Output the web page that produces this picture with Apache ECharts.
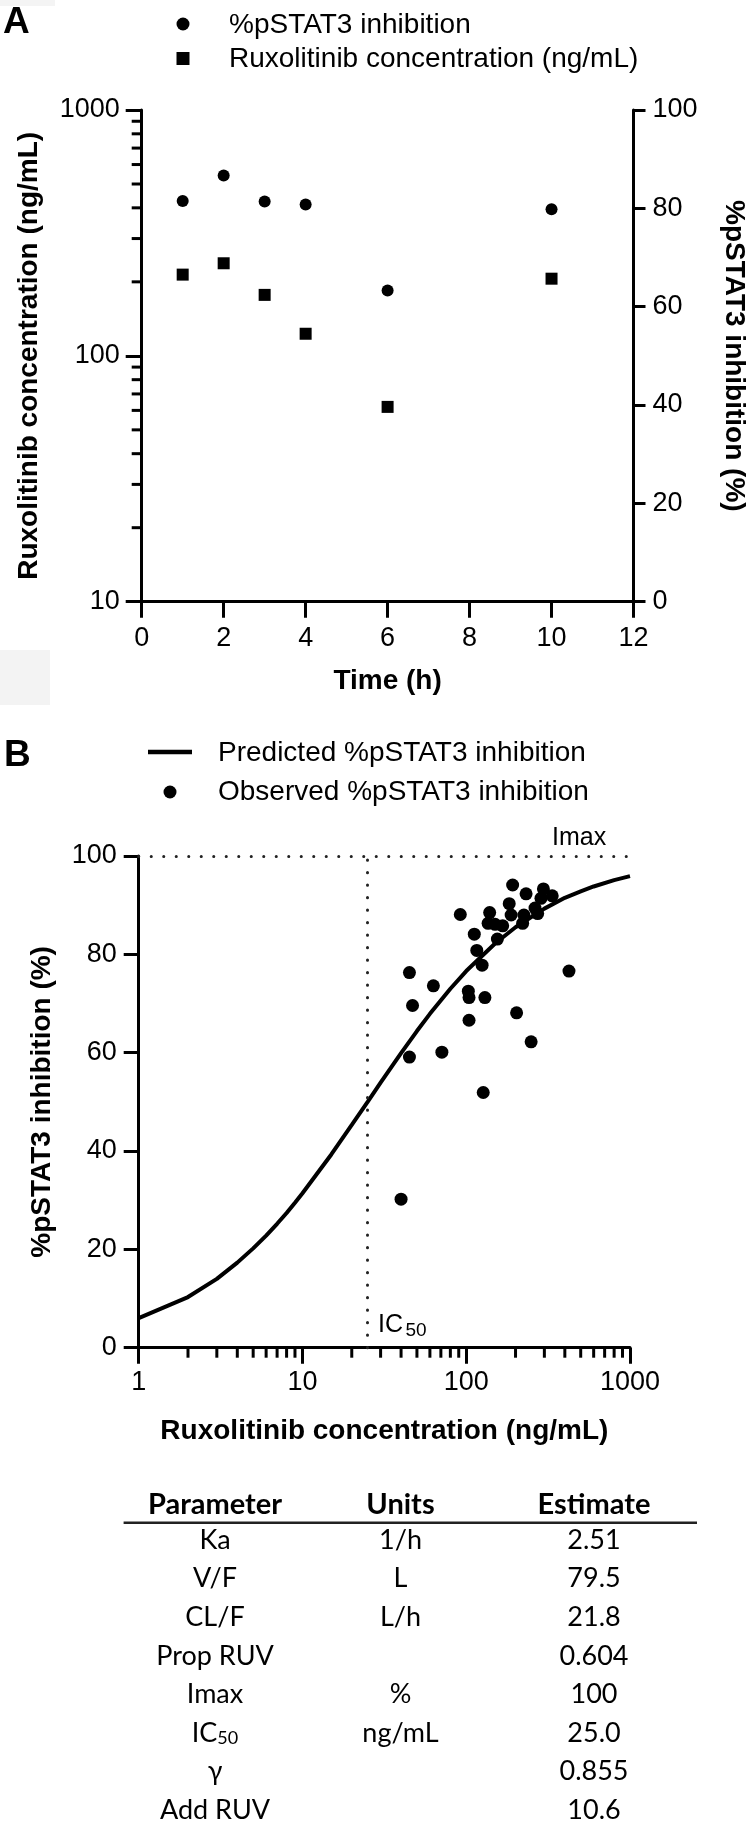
<!DOCTYPE html>
<html><head><meta charset="utf-8">
<script src="https://cdn.jsdelivr.net/npm/echarts@6/dist/echarts.min.js"></script>
<style>html,body{margin:0;padding:0;background:#fff}#c{width:750px;height:1828px}</style>
</head><body><div id="c"></div>
<script>
// ---------- Panel A data ----------
const timeH = [1, 2, 3, 4, 6, 10];
const inhibA = [81.5, 86.7, 81.4, 80.8, 63.3, 79.8];
const concA = [214, 238, 177, 123, 62, 206];
const minorA = [20, 30, 40, 50, 60, 70, 80, 90, 200, 300, 400, 500, 600, 700, 800, 900];

// ---------- Panel B data ----------
const obsConc = [192, 232, 296, 335, 183, 286, 92, 139, 188, 136, 150, 167, 225, 221, 273, 263, 112, 155, 116, 125, 424, 45, 63, 47, 103, 104, 130, 203, 104, 249, 45, 71, 127, 40];
const obsInhib = [94.1, 92.3, 93.3, 91.9, 90.3, 91.4, 88.1, 88.5, 88.0, 86.3, 86.1, 85.8, 88.0, 86.3, 88.3, 89.4, 84.1, 83.1, 80.8, 77.8, 76.6, 76.3, 73.6, 69.6, 72.5, 71.2, 71.2, 68.1, 66.6, 62.2, 59.1, 60.1, 51.9, 30.2];
const predConc = [1, 2, 3, 4, 5, 6, 7, 8, 9, 10, 15, 20, 25, 30, 40, 50, 60, 80, 100, 150, 200, 300, 400, 500, 600, 800, 1000];
const predInhib = [6.0, 10.3, 14.0, 17.3, 20.2, 22.8, 25.2, 27.4, 29.5, 31.4, 39.3, 45.3, 50.0, 53.9, 59.9, 64.4, 67.9, 73.0, 76.6, 82.2, 85.5, 89.3, 91.5, 92.8, 93.8, 95.1, 95.9];
const minorB = [2, 3, 4, 5, 6, 7, 8, 9, 20, 30, 40, 50, 60, 70, 80, 90, 200, 300, 400, 500, 600, 700, 800, 900];
const ic50 = 25;
const imax = 100;

// ---------- Table ----------
const tableHeader = ['Parameter', 'Units', 'Estimate'];
const params = ['Ka', 'V/F', 'CL/F', 'Prop RUV', 'Imax', 'IC|50', 'γ', 'Add RUV'];
const units = ['1/h', 'L', 'L/h', '', '%', 'ng/mL', '', ''];
const estimates = ['2.51', '79.5', '21.8', '0.604', '100', '25.0', '0.855', '10.6'];

const F = 'Liberation Sans, Arial, sans-serif';
const TF = 'Lato, sans-serif';
const K = '#000';
const LS = 27;

const chart = echarts.init(document.getElementById('c'), null, {renderer: 'canvas'});

function axisBase(o) {
  return Object.assign({
    axisLine: {show: true, lineStyle: {color: K, width: 3}},
    axisTick: {show: true, inside: false, length: 16, lineStyle: {color: K, width: 3}},
    axisLabel: {color: K, fontFamily: F, fontSize: LS},
    splitLine: {show: false},
    nameLocation: 'middle',
    nameTextStyle: {color: K, fontFamily: F, fontSize: 28, fontWeight: 'bold'}
  }, o);
}
const fmt = v => String(Math.round(v));

const option = {
  animation: false,
  backgroundColor: '#fff',
  grid: [
    {left: 141.7, top: 110, width: 491.8, height: 491.7, outerBoundsMode: 'none', containLabel: false},
    {left: 138.7, top: 856, width: 491.3, height: 491.7, outerBoundsMode: 'none', containLabel: false}
  ],
  xAxis: [
    axisBase({gridIndex: 0, type: 'value', min: 0, max: 12, interval: 2,
      axisLabel: {color: K, fontFamily: F, fontSize: LS, margin: 23},
      name: 'Time (h)', nameGap: 66}),
    axisBase({gridIndex: 1, type: 'log', logBase: 10, min: 1, max: 1000, splitNumber: 3,
      axisLabel: {color: K, fontFamily: F, fontSize: LS, margin: 21, formatter: fmt},
      name: 'Ruxolitinib concentration (ng/mL)', nameGap: 70})
  ],
  yAxis: [
    axisBase({gridIndex: 0, type: 'log', logBase: 10, min: 10, max: 1000, splitNumber: 2, position: 'left',
      axisLabel: {color: K, fontFamily: F, fontSize: LS, margin: 22, formatter: fmt},
      name: 'Ruxolitinib concentration (ng/mL)', nameGap: 98}),
    axisBase({gridIndex: 0, type: 'value', min: 0, max: 100, interval: 20, position: 'right',
      axisTick: {show: true, inside: false, length: 12, lineStyle: {color: K, width: 3}},
      axisLabel: {color: K, fontFamily: F, fontSize: LS, margin: 19},
      name: '%pSTAT3 inhibition (%)', nameRotate: -90, nameGap: 86}),
    axisBase({gridIndex: 1, type: 'value', min: 0, max: 100, interval: 20,
      axisTick: {show: true, inside: false, length: 15, lineStyle: {color: K, width: 3}},
      axisLabel: {color: K, fontFamily: F, fontSize: LS, margin: 22},
      name: '%pSTAT3 inhibition (%)', nameGap: 82})
  ],
  series: [
    {name: '%pSTAT3 inhibition', type: 'scatter', xAxisIndex: 0, yAxisIndex: 1,
      symbol: 'circle', symbolSize: 12, itemStyle: {color: K, opacity: 1},
      data: timeH.map((t, i) => [t, inhibA[i]]), silent: true},
    {name: 'Ruxolitinib concentration (ng/mL)', type: 'scatter', xAxisIndex: 0, yAxisIndex: 0,
      symbol: 'rect', symbolSize: 12, itemStyle: {color: K, opacity: 1},
      data: timeH.map((t, i) => [t, concA[i]]), silent: true},
    {name: 'minorA', type: 'custom', xAxisIndex: 0, yAxisIndex: 0, silent: true, clip: false,
      data: minorA.map(v => [0, v]),
      renderItem: (p, api) => {
        const c = api.coord([0, api.value(1)]);
        return {type: 'line', shape: {x1: c[0] - 10, y1: c[1], x2: c[0], y2: c[1]}, style: {stroke: K, lineWidth: 3}};
      }},
    {name: 'minorB', type: 'custom', xAxisIndex: 1, yAxisIndex: 2, silent: true, clip: false,
      data: minorB.map(v => [v, 0]),
      renderItem: (p, api) => {
        const c = api.coord([api.value(0), 0]);
        return {type: 'line', shape: {x1: c[0], y1: c[1], x2: c[0], y2: c[1] + 10}, style: {stroke: K, lineWidth: 3}};
      }},
    {name: 'Predicted %pSTAT3 inhibition', type: 'line', xAxisIndex: 1, yAxisIndex: 2,
      data: predConc.map((c, i) => [c, predInhib[i]]), symbol: 'none', smooth: false,
      lineStyle: {color: K, width: 4, opacity: 1}, silent: true, z: 3,
      markLine: {silent: true, symbol: ['none', 'none'], label: {show: false},
        lineStyle: {color: '#222', width: 3, type: [0.1, 12.4], cap: 'round', opacity: 1},
        emphasis: {disabled: true},
        data: [{yAxis: imax}, {xAxis: ic50}]}},
    {name: 'Observed %pSTAT3 inhibition', type: 'scatter', xAxisIndex: 1, yAxisIndex: 2,
      symbol: 'circle', symbolSize: 13, itemStyle: {color: K, opacity: 1}, z: 4,
      data: obsConc.map((c, i) => [c, obsInhib[i]]), silent: true}
  ],
  graphic: []
};

const g = option.graphic;
// faint scan artifacts
g.push({type: 'rect', shape: {x: 0, y: 0, width: 55, height: 6}, style: {fill: '#f4f4f4'}, z: -1});
g.push({type: 'rect', shape: {x: 0, y: 650, width: 50, height: 55}, style: {fill: '#f3f3f3'}, z: -1});
// panel letters
g.push({type: 'text', x: 3, y: 4, style: {text: 'A', font: 'bold 37px ' + F, fill: K, textVerticalAlign: 'top'}});
g.push({type: 'text', x: 4, y: 737, style: {text: 'B', font: 'bold 37px ' + F, fill: K, textVerticalAlign: 'top'}});
// legend A
g.push({type: 'circle', shape: {cx: 183, cy: 24, r: 6.5}, style: {fill: K}});
g.push({type: 'rect', shape: {x: 176.5, y: 52, width: 13, height: 13}, style: {fill: K}});
g.push({type: 'text', x: 229, y: 25, style: {text: '%pSTAT3 inhibition', font: '28px ' + F, fill: K, textVerticalAlign: 'middle'}});
g.push({type: 'text', x: 229, y: 59, style: {text: 'Ruxolitinib concentration (ng/mL)', font: '28px ' + F, fill: K, textVerticalAlign: 'middle'}});
// legend B
g.push({type: 'line', shape: {x1: 148, y1: 752, x2: 192, y2: 752}, style: {stroke: K, lineWidth: 4.5}});
g.push({type: 'circle', shape: {cx: 170, cy: 792, r: 6.5}, style: {fill: K}});
g.push({type: 'text', x: 218, y: 753, style: {text: 'Predicted %pSTAT3 inhibition', font: '28px ' + F, fill: K, textVerticalAlign: 'middle'}});
g.push({type: 'text', x: 218, y: 792, style: {text: 'Observed %pSTAT3 inhibition', font: '28px ' + F, fill: K, textVerticalAlign: 'middle'}});
// annotations
g.push({type: 'text', x: 552, y: 838, style: {text: 'Imax', font: '25px ' + F, fill: K, textVerticalAlign: 'middle'}});
g.push({type: 'text', x: 378, y: 1325, style: {text: 'IC', font: '25px ' + F, fill: K, textVerticalAlign: 'middle'}});
g.push({type: 'text', x: 405.5, y: 1331, style: {text: '50', font: '19px ' + F, fill: K, textVerticalAlign: 'middle'}});

// table
const colX = [215, 400.5, 594];
tableHeader.forEach((h, i) => g.push({type: 'text', x: colX[i], y: 1505,
  style: {text: h, font: 'bold 29px ' + TF, fill: K, textAlign: 'center', textVerticalAlign: 'middle'}}));
g.push({type: 'line', shape: {x1: 123.6, y1: 1522.7, x2: 697, y2: 1522.7}, style: {stroke: '#222', lineWidth: 2.5}});
const cols = [params, units, estimates];
cols.forEach((arr, ci) => arr.forEach((t, ri) => {
  if (!t) return;
  const y = 1540 + 38.6 * ri;
  if (t.indexOf('|') >= 0) {
    const parts = t.split('|');
    g.push({type: 'text', x: colX[ci], y: y, style: {
      text: '{n|' + parts[0] + '}{s|' + parts[1] + '}', textAlign: 'center', textVerticalAlign: 'middle', fill: K,
      rich: {n: {fontFamily: TF, fontSize: 27, lineHeight: 28, fill: K},
             s: {fontFamily: TF, fontSize: 18, lineHeight: 12, verticalAlign: 'bottom', fill: K}}}});
  } else {
    g.push({type: 'text', x: colX[ci], y: y, style: {text: t, font: '27px ' + TF, fill: K, textAlign: 'center', textVerticalAlign: 'middle'}});
  }
}));

chart.setOption(option);
</script>
</body></html>
